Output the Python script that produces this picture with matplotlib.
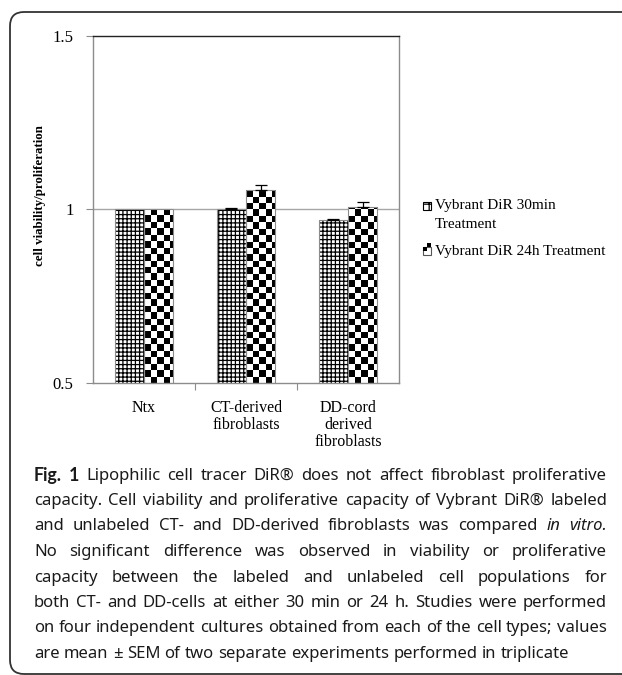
"""Cell viability / proliferation bar chart with hatched and checkerboard bars."""

import numpy as np
import matplotlib
matplotlib.use('Agg')
import matplotlib.pyplot as plt
from matplotlib.patches import Rectangle, FancyBboxPatch
from matplotlib.transforms import IdentityTransform

# data
categories = ['Ntx', 'CT-derived\nfibroblasts', 'DD-cord\nderived\nfibroblasts']
series_names = ['Vybrant DiR 30min\nTreatment', 'Vybrant DiR 24h Treatment']
vals_30min = [1.0, 1.002, 0.971]
err_30min = [0.0, 0.003, 0.003]
vals_24h = [1.0, 1.056, 1.007]
err_24h = [0.0, 0.016, 0.016]
yticks = [0.5, 1.0, 1.5]
ytick_labels = ['0.5', '1', '1.5']

caption_lines = [
    'Fig. 1 Lipophilic cell tracer DiR\u00ae does not affect fibroblast proliferative',
    'capacity. Cell viability and proliferative capacity of Vybrant DiR\u00ae labeled',
    'and unlabeled CT- and DD-derived fibroblasts was compared in vitro.',
    'No significant difference was observed in viability or proliferative',
    'capacity between the labeled and unlabeled cell populations for',
    'both CT- and DD-cells at either 30 min or 24 h. Studies were performed',
    'on four independent cultures obtained from each of the cell types; values',
    'are mean \u00b1 SEM of two separate experiments performed in triplicate',
]

SERIF = 'Liberation Serif'
CAP_FONT = 'Noto Sans'
matplotlib.rcParams['hatch.linewidth'] = 0.9

W, H = 622, 675
fig = plt.figure(figsize=(W / 100, H / 100), dpi=100)
ax = fig.add_axes([93 / W, 1 - 383 / H, (399 - 93) / W, (383 - 36) / H])

x = np.arange(len(categories))
bw = 0.285
grey = '#8c8c8c'

# 30 min bars: grid hatch
bars1 = ax.bar(x - bw / 2, vals_30min, bw, color='white', edgecolor='black',
               hatch='++++', linewidth=0, zorder=2)
ax.bar(x - bw / 2, vals_30min, bw, fill=False, edgecolor=grey, linewidth=0.8, zorder=3)

# 24 h bars: checkerboard image clipped to each bar
bars2 = ax.bar(x + bw / 2, vals_24h, bw, color='white', linewidth=0, zorder=2)
sq = 6.4  # checker square in pixels
ncol, nrow = int(round(306 / sq)), int(round(347 / sq))
checker = (np.add.outer(np.arange(nrow), np.arange(ncol)) % 2).astype(float)
for b in bars2:
    im = ax.imshow(checker, cmap='gray', vmin=0, vmax=1, extent=(-0.5, 2.5, 0.5, 1.5),
                   aspect='auto', interpolation='nearest', zorder=2.5)
    im.set_clip_path(b)
ax.bar(x + bw / 2, vals_24h, bw, fill=False, edgecolor=grey, linewidth=0.8, zorder=3)

# error bars
for xs, v, e in [(x - bw / 2, vals_30min, err_30min), (x + bw / 2, vals_24h, err_24h)]:
    mask = np.array(e) > 0
    ax.errorbar(xs[mask], np.array(v)[mask], yerr=[np.zeros(mask.sum()), np.array(e)[mask]],
                fmt='none', ecolor='black', elinewidth=0.9, capsize=4, capthick=0.9, zorder=4)

ax.set_xlim(-0.5, 2.5)
ax.set_ylim(0.5, 1.5)
ax.axhline(1.0, color='#a6a6a6', linewidth=1.0, zorder=1)

ax.set_yticks(yticks)
ax.set_yticklabels(ytick_labels, fontfamily=SERIF, fontsize=12)
ax.tick_params(axis='y', direction='out', length=5, width=0.8, color=grey, pad=9)
ax.set_xticks(x)
ax.set_xticklabels(categories, fontfamily=SERIF, fontsize=11.5, linespacing=1.1)
ax.set_xticks([0.5, 1.5], minor=True)
ax.tick_params(axis='x', which='major', length=0, pad=12)
ax.tick_params(axis='x', which='minor', direction='out', length=5, width=0.8, color=grey)

for side in ['left', 'bottom', 'right']:
    ax.spines[side].set_color(grey)
    ax.spines[side].set_linewidth(1.0)
ax.spines['top'].set_color('#222222')
ax.spines['top'].set_linewidth(1.0)

ax.set_ylabel('cell viability/proliferation', fontfamily=SERIF, fontweight='bold', fontsize=9.3)
ax.yaxis.set_label_coords(-0.155, 0.54)

# legend drawn by hand
def fx(px):
    return px / W

def fy(py):
    return 1 - py / H

s = 8
fig.patches.append(Rectangle((fx(423), fy(210)), s / W, s / H, transform=fig.transFigure,
                             facecolor='white', edgecolor='black', hatch='++', linewidth=0.8))
fig.patches.append(Rectangle((fx(423), fy(255)), s / W, s / H, transform=fig.transFigure,
                             facecolor='white', edgecolor='#555555', linewidth=0.8))
for dx, dy in [(0, 0), (s / 2, s / 2)]:
    fig.patches.append(Rectangle((fx(423 + dx), fy(255 - dy) + (s / 2) / H), (s / 2) / W,
                                 (s / 2) / H, transform=fig.transFigure, facecolor='black',
                                 linewidth=0))
fig.text(fx(435), fy(206), 'Vybrant DiR 30min', fontfamily=SERIF, fontsize=11, va='center')
fig.text(fx(435), fy(225), 'Treatment', fontfamily=SERIF, fontsize=11, va='center')
fig.text(fx(435), fy(251), 'Vybrant DiR 24h Treatment', fontfamily=SERIF, fontsize=11, va='center')

# rounded frame
fig.patches.append(FancyBboxPatch((10, 1), 700, 662, boxstyle='round,pad=0,rounding_size=14',
                                  transform=IdentityTransform(), facecolor='none',
                                  edgecolor='#333333', linewidth=1.3))

# caption, justified word by word
fig.canvas.draw()
r = fig.canvas.get_renderer()
cap_fs = 12
left, right = 34, 607
for i, line in enumerate(caption_lines):
    yy = fy(475.5 + i * 25.5)
    words = line.split(' ')
    texts = []
    for j, w in enumerate(words):
        kw = dict(fontfamily=CAP_FONT, fontsize=cap_fs, va='center', color='#1a1a1a')
        if i == 0 and j < 2:
            kw['fontfamily'] = 'Lato'   # Noto Sans has no bold face here
            kw['fontweight'] = 'bold'
            kw['fontsize'] = 12.8
        if i == 2 and j >= len(words) - 2:
            kw['fontstyle'] = 'italic'
        texts.append(fig.text(0, yy, w, **kw))
    widths = [t.get_window_extent(r).width for t in texts]
    if i < len(caption_lines) - 1:
        gap = (right - left - sum(widths)) / (len(words) - 1)
    else:
        gap = cap_fs * 0.26 * 100 / 72
    xx = left
    for t, wd in zip(texts, widths):
        t.set_x(fx(xx))
        xx += wd + gap

fig.savefig('out.png', dpi=100)
